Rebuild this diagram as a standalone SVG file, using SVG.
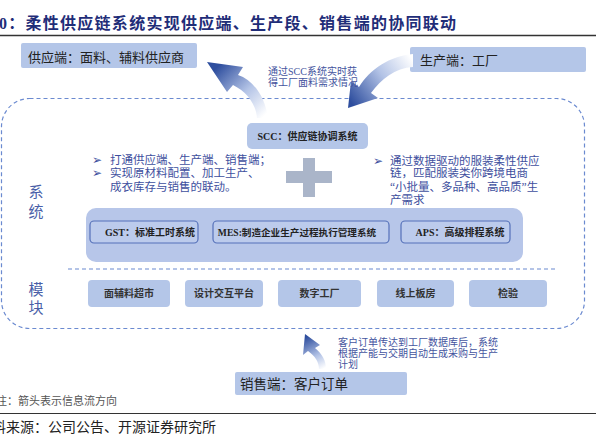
<svg xmlns="http://www.w3.org/2000/svg" width="596" height="435" viewBox="0 0 596 435">
<defs>
<style>
text{font-family:"Liberation Serif","Noto Sans CJK SC",serif;}
.title{font-size:16px;font-weight:bold;fill:#1f2d78;}
.lbl{font-size:13px;fill:#222;}
.note{font-size:10px;fill:#44549e;}
.body{font-size:11.5px;fill:#3e4f9e;}
.bul{font-family:"DejaVu Sans",sans-serif;font-size:12px;fill:#3e4f9e;}
.sys{font-size:10px;font-weight:bold;fill:#222;}
.mod{font-size:10px;font-weight:bold;fill:#333;text-anchor:middle;}
.side{font-size:15px;fill:#4a5fa8;text-anchor:middle;}
.ebox{fill:#b4c6e8;}
.ibox{fill:#bccbec;stroke:#5571b9;stroke-width:1.2;}
.dash{fill:none;stroke:#6b8ad0;stroke-width:1.2;stroke-dasharray:4 3;}
</style>
<linearGradient id="gL" gradientUnits="userSpaceOnUse" x1="262" y1="118" x2="214" y2="70">
<stop offset="0" stop-color="#ffffff"/><stop offset="0.45" stop-color="#b3c3e6"/><stop offset="1" stop-color="#2e4e9e"/>
</linearGradient>
<linearGradient id="gR" gradientUnits="userSpaceOnUse" x1="413" y1="60" x2="352" y2="104">
<stop offset="0" stop-color="#ffffff"/><stop offset="0.45" stop-color="#b3c3e6"/><stop offset="1" stop-color="#2e4e9e"/>
</linearGradient>
<linearGradient id="gB" gradientUnits="userSpaceOnUse" x1="323" y1="369" x2="306" y2="337">
<stop offset="0" stop-color="#ffffff"/><stop offset="0.4" stop-color="#b3c3e6"/><stop offset="1" stop-color="#2e4e9e"/>
</linearGradient>
</defs>
<rect width="596" height="435" fill="#ffffff"/>

<g id="title">
<text class="title" x="-1" y="29" textLength="457">0：柔性供应链系统实现供应端、生产段、销售端的协同联动</text>
<line x1="0" y1="35.5" x2="596" y2="35.5" stroke="#333" stroke-width="1.5"/>
</g>

<g id="outer">
<rect class="dash" x="1.5" y="98.5" width="583" height="230" rx="28"/>
<line class="dash" x1="68" y1="269" x2="555" y2="269"/>
<text class="side" x="36" y="197">系</text>
<text class="side" x="36" y="217">统</text>
<text class="side" x="36" y="295">模</text>
<text class="side" x="36" y="313">块</text>
</g>

<g id="supplier">
<rect class="ebox" x="21" y="43" width="176" height="25" rx="2"/>
<text class="lbl" x="28" y="62">供应端：面料、辅料供应商</text>
</g>

<g id="producer">
<rect class="ebox" x="410" y="47" width="176" height="25" rx="2"/>
<text class="lbl" x="420" y="65">生产端：工厂</text>
</g>

<g id="connectors">
<path fill="url(#gL)" d="M207,62 L243,67 L238,75 C253,80 265,96 268,118 L257,118 C256,104 247,92 233,85 L227,92 Z"/>
<path fill="url(#gR)" d="M348,108 L351,81 L359,87 C370,69 390,56 413,54 L413,67 C395,68 381,79 371,93 L378,98 Z"/>
<path fill="url(#gB)" d="M305,334 L320,345 L315,348 C322,354 326,360 326,369 L319,369 C319,362 315,356 308,351 L303,355 Z"/>
<text class="note" x="268" y="75">通过SCC系统实时获</text>
<text class="note" x="268" y="86">得工厂面料需求情况</text>
<text class="note" x="338" y="346">客户订单传达到工厂数据库后，系统</text>
<text class="note" x="338" y="357">根据产能与交期自动生成采购与生产</text>
<text class="note" x="338" y="368">计划</text>
</g>

<g id="scc">
<rect class="ebox" x="247" y="123" width="121" height="26" rx="5"/>
<text class="sys" x="307.5" y="140" text-anchor="middle">SCC：供应链协调系统</text>
</g>

<g id="plus">
<path fill="#aab5c9" d="M303,158 H315 V171 H332 V183 H315 V197 H303 V183 H286 V171 H303 Z"/>
</g>

<g id="left-text">
<text class="bul" x="92" y="164">➢</text>
<text class="bul" x="92" y="177">➢</text>
<text class="body" x="110" y="164">打通供应端、生产端、销售端；</text>
<text class="body" x="110" y="177">实现原材料配置、加工生产、</text>
<text class="body" x="110" y="191">成衣库存与销售的联动。</text>
</g>

<g id="right-text">
<text class="bul" x="373" y="165">➢</text>
<text class="body" x="390" y="165">通过数据驱动的服装柔性供应</text>
<text class="body" x="390" y="177">链，匹配服装类你跨境电商</text>
<text class="body" x="390" y="191">“小批量、多品种、高品质”生</text>
<text class="body" x="390" y="204">产需求</text>
</g>

<g id="systems">
<rect x="86" y="208" width="437" height="54" rx="10" fill="#b7c6e9"/>
<g id="gst">
<rect class="ibox" x="90" y="221" width="108" height="22" rx="4"/>
<text class="sys" x="150" y="236" text-anchor="middle">GST：标准工时系统</text>
</g>
<g id="mes">
<rect class="ibox" x="213" y="221" width="176" height="22" rx="4"/>
<text class="sys" x="297" y="236" text-anchor="middle" style="font-size:9.6px">MES:制造企业生产过程执行管理系统</text>
</g>
<g id="aps">
<rect class="ibox" x="401" y="221" width="109" height="22" rx="4"/>
<text class="sys" x="460" y="236" text-anchor="middle">APS：高级排程系统</text>
</g>
</g>

<g id="modules">
<g id="m1"><rect class="ebox" x="88" y="280" width="82" height="27" rx="4"/><text class="mod" x="129" y="297">面辅料超市</text></g>
<g id="m2"><rect class="ebox" x="185" y="280" width="78" height="27" rx="4"/><text class="mod" x="224" y="297">设计交互平台</text></g>
<g id="m3"><rect class="ebox" x="278" y="280" width="83" height="27" rx="4"/><text class="mod" x="319.5" y="297">数字工厂</text></g>
<g id="m4"><rect class="ebox" x="377" y="280" width="77" height="27" rx="4"/><text class="mod" x="415.5" y="297">线上板房</text></g>
<g id="m5"><rect class="ebox" x="469" y="280" width="78" height="27" rx="4"/><text class="mod" x="508" y="297">检验</text></g>
</g>

<g id="sales">
<rect class="ebox" x="235" y="372" width="172" height="23" rx="2"/>
<text class="lbl" x="240" y="389" style="font-size:13.5px">销售端：客户订单</text>
</g>

<g id="footer">
<text x="-4" y="405" style="font-size:11px;fill:#555">注：箭头表示信息流方向</text>
<line x1="0" y1="413.5" x2="596" y2="413.5" stroke="#333" stroke-width="1.2"/>
<text x="-8" y="432" style="font-size:14px;fill:#222">料来源：公司公告、开源证券研究所</text>
</g>
</svg>
